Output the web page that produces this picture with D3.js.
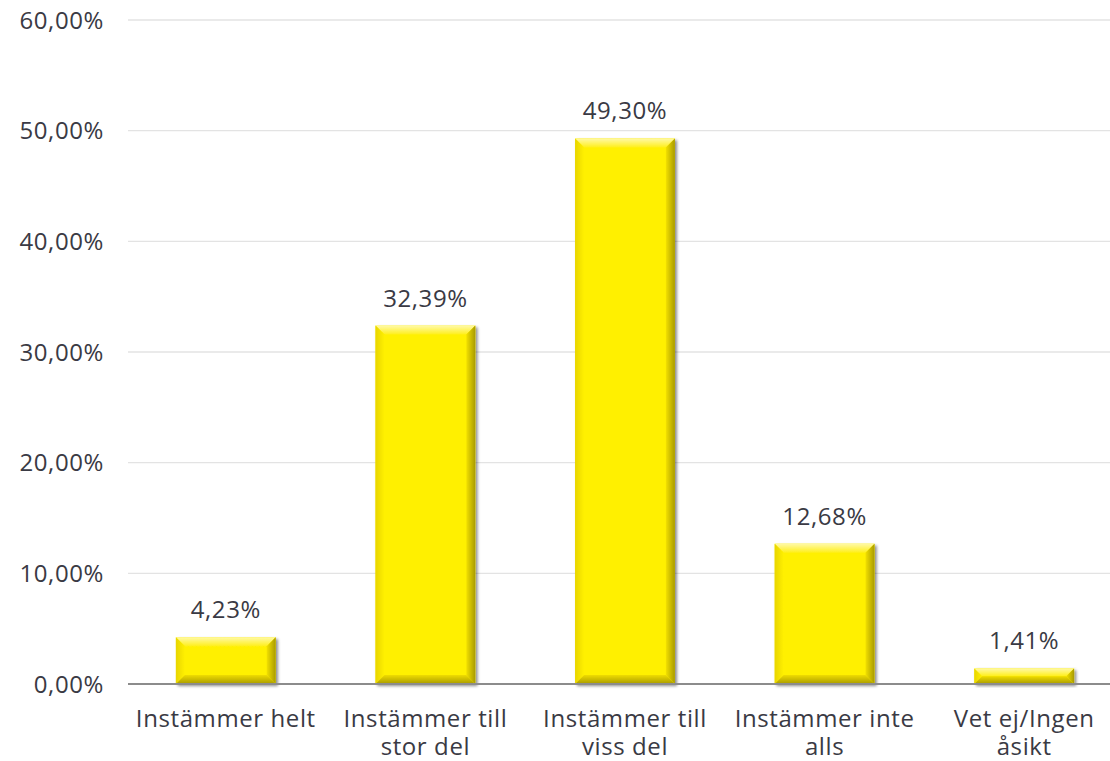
<!DOCTYPE html>
<html>
<head>
<meta charset="utf-8">
<script src="https://cdn.jsdelivr.net/npm/d3@7"></script>
<style>
  html, body { margin: 0; padding: 0; background: #fff; }
  text { font-family: "Open Sans", "DejaVu Sans", sans-serif; fill: #3a3a44; letter-spacing: 0.6px; }
</style>
</head>
<body>
<svg id="chart" width="1110" height="761"></svg>
<script>
const categories = [
  ["Instämmer helt"],
  ["Instämmer till", "stor del"],
  ["Instämmer till", "viss del"],
  ["Instämmer inte", "alls"],
  ["Vet ej/Ingen", "åsikt"]
];
const values = [4.23, 32.39, 49.30, 12.68, 1.41];
const yTicks = [0, 10, 20, 30, 40, 50, 60];

const fmt = v => v.toFixed(2).replace(".", ",") + "%";

const svg = d3.select("#chart");
const margin = { left: 126, right: -14, top: 20, bottom: 77 };
const W = 1110, H = 761;
const FS = 24;

const x = d3.scaleBand()
  .domain(d3.range(categories.length))
  .range([margin.left, W - margin.right])
  .paddingInner(0.5)
  .paddingOuter(0.25);
const y = d3.scaleLinear().domain([0, 60]).range([H - margin.bottom, margin.top]);

const defs = svg.append("defs");
function grad(id, x1, y1, x2, y2, stops) {
  const g = defs.append("linearGradient").attr("id", id)
    .attr("x1", x1).attr("y1", y1).attr("x2", x2).attr("y2", y2);
  stops.forEach(s => g.append("stop").attr("offset", s[0]).attr("stop-color", s[1]));
}
grad("gTop", 0, 0, 0, 1, [[0, "#fff9a8"], [1, "#ffef1a"]]);
grad("gLeft", 0, 0, 1, 0, [[0, "#e8d500"], [1, "#fff000"]]);
grad("gRight", 0, 0, 1, 0, [[0, "#f2e000"], [1, "#a89a00"]]);
grad("gBottom", 0, 0, 0, 1, [[0, "#efdc00"], [1, "#a99b00"]]);
const shadow = defs.append("filter").attr("id", "shadow")
  .attr("x", "-10%").attr("y", "-10%").attr("width", "130%").attr("height", "130%");
shadow.append("feGaussianBlur").attr("in", "SourceAlpha").attr("stdDeviation", 1.5);
shadow.append("feOffset").attr("dx", 2).attr("dy", 1.5).attr("result", "b");
shadow.append("feComponentTransfer").append("feFuncA").attr("type", "linear").attr("slope", 0.45);
const fm = shadow.append("feMerge");
fm.append("feMergeNode");
fm.append("feMergeNode").attr("in", "SourceGraphic");

// horizontal gridlines
svg.append("g").selectAll("line").data(yTicks.filter(t => t > 0)).join("line")
  .attr("x1", 128).attr("x2", W)
  .attr("y1", d => y(d)).attr("y2", d => y(d))
  .attr("stroke", "#e3e3e3").attr("stroke-width", 1.3);

// y-axis labels
svg.append("g").selectAll("text").data(yTicks).join("text")
  .attr("x", 104).attr("y", d => y(d)).attr("dy", "0.36em")
  .attr("text-anchor", "end").attr("font-size", FS)
  .text(d => fmt(d));

// bevelled bars
const bars = svg.append("g").selectAll("g").data(values).join("g")
  .attr("filter", "url(#shadow)");
bars.each(function (v, i) {
  const g = d3.select(this);
  const x0 = x(i), x1 = x(i) + x.bandwidth();
  const y0 = y(v), y1 = y(0);
  const b = Math.min(9, (y1 - y0) / 2);
  g.append("rect").attr("x", x0).attr("y", y0).attr("width", x1 - x0).attr("height", y1 - y0)
    .attr("fill", "#fff000");
  const poly = (pts, fill) => g.append("polygon")
    .attr("points", pts.map(p => p.join(",")).join(" ")).attr("fill", fill);
  poly([[x0, y0], [x1, y0], [x1 - b, y0 + b], [x0 + b, y0 + b]], "url(#gTop)");
  poly([[x0, y0], [x0 + b, y0 + b], [x0 + b, y1 - b], [x0, y1]], "url(#gLeft)");
  poly([[x1, y0], [x1, y1], [x1 - b, y1 - b], [x1 - b, y0 + b]], "url(#gRight)");
  poly([[x0, y1], [x0 + b, y1 - b], [x1 - b, y1 - b], [x1, y1]], "url(#gBottom)");
});

// baseline
svg.append("line").attr("x1", 128).attr("x2", W)
  .attr("y1", y(0)).attr("y2", y(0))
  .attr("stroke", "#8c8c8c").attr("stroke-width", 2);

// value labels
svg.append("g").selectAll("text").data(values).join("text")
  .attr("x", (d, i) => x(i) + x.bandwidth() / 2)
  .attr("y", d => y(d) - 19)
  .attr("text-anchor", "middle").attr("font-size", FS)
  .text(d => fmt(d));

// category labels
const cat = svg.append("g").selectAll("text").data(categories).join("text")
  .attr("x", (d, i) => x(i) + x.bandwidth() / 2)
  .attr("y", 727)
  .attr("text-anchor", "middle").attr("font-size", FS);
cat.selectAll("tspan").data(d => d).join("tspan")
  .attr("x", function () { return d3.select(this.parentNode).attr("x"); })
  .attr("dy", (d, j) => j === 0 ? 0 : 28)
  .text(d => d);
</script>
</body>
</html>
